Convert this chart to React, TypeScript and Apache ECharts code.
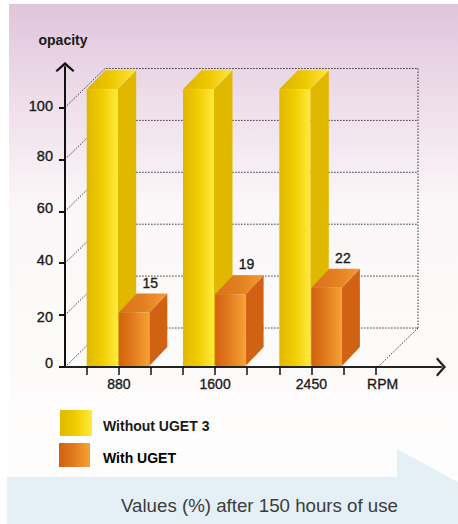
import React, { useEffect, useRef } from "react";
import * as echarts from "echarts";

const groupLabels = ["880", "1600", "2450"];
const axisEndLabel = "RPM";
const yTicks = [0, 20, 40, 60, 80, 100];
const groupSlots = [0, 3, 6];
const withoutUgetHeights = [107, 107, 107];
const withUgetHeights = [21, 28, 30.5];
const withUgetPrinted = ["15", "19", "22"];
const xTickSlots = [0, 1, 2, 3, 4, 5, 6, 7, 8, 9];
const legendNames = ["Without UGET 3", "With UGET"];
const yAxisName = "opacity";
const footerText = "Values (%) after 150 hours of use";

const FONT = '"Liberation Sans", Arial, sans-serif';
const INK = "#1a1a1a";
const grad = (stops: [number, string][]) =>
  new echarts.graphic.LinearGradient(0, 0, 1, 0, stops.map(([offset, color]) => ({ offset, color })));
const YELLOW = [[0, "#e0b800"], [0.5, "#efcd00"], [0.8, "#fbdf24"], [1, "#ffea40"]] as [number, string][];
const ORANGE = [[0, "#d2610f"], [0.45, "#e17a1c"], [1, "#f5a236"]] as [number, string][];

const labelOffsets: Record<number, string> = { 0: "d", 20: "u", 40: "m", 60: "m", 80: "m", 100: "s" };
const heavy = { textBorderColor: INK, textBorderWidth: 0.35 };

function barRenderer(front: any, side: string, top: any, width: number, depthX: number, depthY: number, printed?: string[]) {
  return (params: any, api: any) => {
    const slot = api.value(0);
    const h = api.value(1);
    const [x0, yTop] = api.coord([slot, h]);
    const [, yBase] = api.coord([slot, 0]);
    const x1 = x0 + width;
    const children: any[] = [
      { type: "polygon", shape: { points: [[x1, yBase - 1], [x1 + depthX, yBase - 1 - depthY], [x1 + depthX, yTop - depthY], [x1, yTop]] }, style: { fill: side } },
      { type: "polygon", shape: { points: [[x0, yTop], [x0 + depthX, yTop - depthY], [x1 + depthX, yTop - depthY], [x1, yTop]] }, style: { fill: top } },
      { type: "rect", shape: { x: x0, y: yTop, width, height: yBase - yTop - 1 }, style: { fill: front } },
    ];
    if (printed) {
      children.push({
        type: "text",
        style: { text: printed[params.dataIndex], x: x1 + 1, y: yTop - depthY - 11, align: "center", verticalAlign: "middle", font: `14px ${FONT}`, fill: INK, stroke: INK, lineWidth: 0.35 },
      });
    }
    return { type: "group", children };
  };
}

export default function App() {
  const ref = useRef<HTMLDivElement>(null);
  useEffect(() => {
    document.body.style.margin = "0";
    const chart = echarts.init(ref.current!, null, { renderer: "svg" });
    const wallDepth = [40, 39];
    const leftSlot = -0.676;
    const wallRightX = 418;
    const richBase = { fontFamily: FONT, fontSize: 14.5, color: INK, ...heavy };
    chart.setOption({
      animation: false,
      backgroundColor: "#ffffff",
      grid: { left: 65, top: 67, width: 376, height: 300, containLabel: false },
      xAxis: {
        type: "value",
        min: leftSlot,
        max: (441 - 86.7) / 32.1,
        splitLine: { show: false },
        z: 5,
        axisLine: {
          onZero: false,
          lineStyle: { color: "#222", width: 2 },
          symbol: ["none", "path://M0 8 L9 0 L18 8 L16.6 9.5 L9 3 L1.4 9.5 Z"],
          symbolSize: [20, 10],
        },
        axisTick: { show: true, length: 8, lineStyle: { color: "#111", width: 1.5 }, customValues: xTickSlots },
        axisLabel: {
          color: INK, fontFamily: FONT, fontSize: 14, margin: 10, ...heavy,
          customValues: [1, 4, 7, 9.22],
          formatter: (v: number) => (v > 8 ? axisEndLabel : groupLabels[Math.round((v - 1) / 3)]),
        },
      },
      yAxis: {
        type: "value",
        min: 0,
        max: 300 / 2.595,
        name: yAxisName,
        nameLocation: "end",
        nameGap: 20,
        nameTextStyle: { color: INK, fontFamily: FONT, fontSize: 14, fontWeight: "bold", align: "center", padding: [0, 4, 0, 0] },
        splitLine: { show: false },
        z: 5,
        axisLine: {
          onZero: false,
          lineStyle: { color: "#111", width: 2 },
          symbol: ["none", "path://M0 8 L9 0 L18 8 L16.6 9.5 L9 3 L1.4 9.5 Z"],
          symbolSize: [20, 10],
        },
        axisTick: { show: true, length: 6, lineStyle: { color: "#111", width: 2 }, customValues: yTicks },
        axisLabel: {
          color: INK, fontFamily: FONT, fontSize: 14.5, margin: 12,
          customValues: yTicks,
          formatter: (v: number) => `{${labelOffsets[v]}|${v}}`,
          rich: {
            d: { ...richBase, padding: [0, 0, 8, 0] },
            u: { ...richBase, padding: [4, 0, 0, 0] },
            m: { ...richBase, padding: [0, 0, 6, 0] },
            s: { ...richBase, padding: [0, 0, 4, 0] },
          },
        },
      },
      graphic: [
        {
          type: "rect", z: -10, silent: true, shape: { x: 9, y: 4, width: 449, height: 473 },
          style: {
            fill: new echarts.graphic.LinearGradient(0, 0, 0, 1, [
              { offset: 0, color: "#e0c5dc" },
              { offset: 0.2, color: "#eeddea" },
              { offset: 0.42, color: "#fbf6f7" },
              { offset: 0.75, color: "#fdfbfa" },
              { offset: 1, color: "#fefdfd" },
            ]),
          },
        },
        {
          type: "polygon", z: -9, silent: true,
          shape: { points: [[7, 477], [397, 477], [397, 449], [458, 482], [458, 524], [7, 524]] },
          style: { fill: "#e4eff6" },
        },
        { type: "rect", z: 3, shape: { x: 60, y: 410, width: 32, height: 26 }, style: { fill: grad(YELLOW) } },
        { type: "rect", z: 3, shape: { x: 59, y: 443, width: 31, height: 24 }, style: { fill: grad(ORANGE) } },
        { type: "text", z: 3, style: { text: legendNames[0], x: 103, y: 425.5, verticalAlign: "middle", font: `bold 14px ${FONT}`, fill: INK } },
        { type: "text", z: 3, style: { text: legendNames[1], x: 103, y: 457.5, verticalAlign: "middle", font: `bold 14px ${FONT}`, fill: "#000" } },
        { type: "text", z: 3, style: { text: footerText, x: 121, y: 505, verticalAlign: "middle", font: `18.7px ${FONT}`, fill: "#3c3c3c" } },
      ],
      series: [
        {
          type: "custom",
          z: 1,
          clip: false,
          silent: true,
          data: yTicks.map((v) => [leftSlot, v]),
          encode: { x: 0, y: 1 },
          renderItem: (_p: any, api: any) => {
            const [x, y] = api.coord([api.value(0), api.value(1)]);
            const isZero = api.value(1) === 0;
            const dash = { stroke: "#333", lineWidth: 1, lineDash: [1.5, 1.5], fill: "none" };
            const backY = y - wallDepth[1];
            const children: any[] = [
              { type: "polyline", shape: { points: [[x, y], [x + wallDepth[0], backY], [wallRightX, backY]] }, style: dash },
            ];
            if (isZero) {
              const [, top] = api.coord([0, 100]);
              children.push({ type: "line", shape: { x1: wallRightX, y1: backY, x2: wallRightX, y2: top - wallDepth[1] }, style: dash });
              children.push({ type: "line", shape: { x1: wallRightX, y1: backY, x2: wallRightX - wallDepth[0], y2: y }, style: dash });
            }
            return { type: "group", children };
          },
        },
        {
          type: "custom",
          z: 2,
          clip: false,
          silent: true,
          name: legendNames[0],
          data: groupSlots.map((s, i) => [s, withoutUgetHeights[i]]),
          encode: { x: 0, y: 1 },
          renderItem: barRenderer(grad(YELLOW), "#e0b800", grad([[0, "#dcb200"], [0.5, "#ecc800"], [1, "#ffe63a"]]), 31, 18.5, 19),
        },
        {
          type: "custom",
          z: 3,
          clip: false,
          silent: true,
          name: legendNames[1],
          data: groupSlots.map((s, i) => [s + 1, withUgetHeights[i]]),
          encode: { x: 0, y: 1 },
          renderItem: barRenderer(grad(ORANGE), "#d16213", grad([[0, "#d8701c"], [0.5, "#e4801f"], [1, "#f39a32"]]), 30.5, 18, 19, withUgetPrinted),
        },
      ],
    });
    return () => chart.dispose();
  }, []);
  return <div ref={ref} style={{ position: "absolute", left: 0, top: 0, width: 458, height: 524 }} />;
}
